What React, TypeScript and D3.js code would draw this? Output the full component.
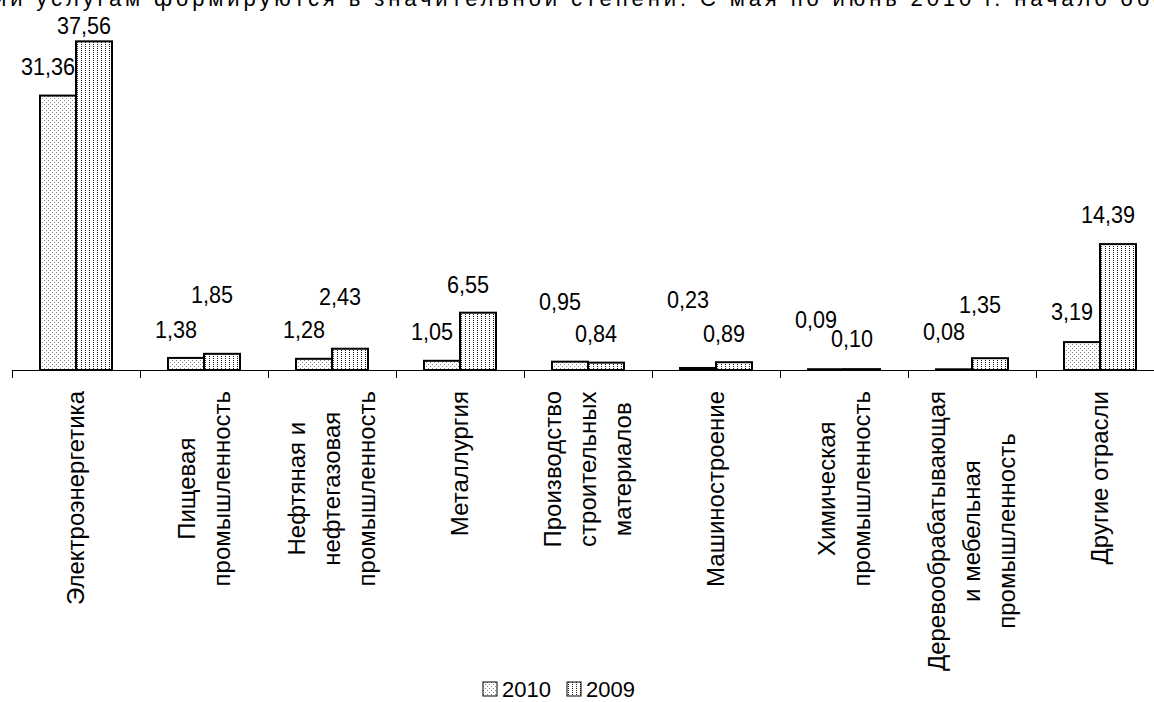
import React, { useEffect, useRef } from 'react';
import * as d3 from 'd3';

const categories = [
  'Электроэнергетика',
  'Пищевая промышленность',
  'Нефтяная и нефтегазовая промышленность',
  'Металлургия',
  'Производство строительных материалов',
  'Машиностроение',
  'Химическая промышленность',
  'Деревообрабатывающая и мебельная промышленность',
  'Другие отрасли',
];
const categoryLines = [
  ['Электроэнергетика'],
  ['Пищевая', 'промышленность'],
  ['Нефтяная и', 'нефтегазовая', 'промышленность'],
  ['Металлургия'],
  ['Производство', 'строительных', 'материалов'],
  ['Машиностроение'],
  ['Химическая', 'промышленность'],
  ['Деревообрабатывающая', 'и мебельная', 'промышленность'],
  ['Другие отрасли'],
];
const years = ['2010', '2009'];
const values2010 = [31.36, 1.38, 1.28, 1.05, 0.95, 0.23, 0.09, 0.08, 3.19];
const values2009 = [37.56, 1.85, 2.43, 6.55, 0.84, 0.89, 0.1, 1.35, 14.39];

// labels were moved by hand in the original: distance above the bar top
const lift2010 = [21, 20, 21, 21, 52, 60, 41, 29, 22];
const lift2009 = [7, 51, 44, 20, 21, 20, 22, 45, 21];

const headerText = 'ии услугам формируются в значительной степени. С мая по июнь 2010 г. начало обс';

const FONT = 'Liberation Sans, Arial, sans-serif';

const App = () => {
  const chartRef = useRef<SVGSVGElement>(null);

  useEffect(() => {
    if (!chartRef.current) return;
    const svg = d3.select(chartRef.current);
    svg.selectAll('*').remove();

    const baseY = 370;
    const left = 12;
    const step = 128;

    const defs = svg.append('defs');
    const p1 = defs.append('pattern').attr('id', 'p2010')
      .attr('width', 4).attr('height', 4).attr('patternUnits', 'userSpaceOnUse');
    p1.append('rect').attr('width', 4).attr('height', 4).attr('fill', '#fff');
    p1.append('rect').attr('x', 0).attr('y', 0).attr('width', 1).attr('height', 1).attr('fill', '#888');
    p1.append('rect').attr('x', 2).attr('y', 2).attr('width', 1).attr('height', 1).attr('fill', '#888');
    const p2 = defs.append('pattern').attr('id', 'p2009')
      .attr('width', 4).attr('height', 2).attr('patternUnits', 'userSpaceOnUse');
    p2.append('rect').attr('width', 4).attr('height', 2).attr('fill', '#fff');
    p2.append('rect').attr('x', 1).attr('y', 0).attr('width', 1).attr('height', 1).attr('fill', '#222');

    const fills: Record<string, string> = { '2010': 'url(#p2010)', '2009': 'url(#p2009)' };

    // clipped line of body text above the chart
    svg.append('text')
      .attr('x', -6).attr('y', 6)
      .attr('textLength', 1170).attr('lengthAdjust', 'spacing')
      .style('font-family', FONT).style('font-size', '22px')
      .text(headerText);

    const x = d3.scaleBand().domain(categories)
      .range([left, left + step * categories.length]).padding(0);
    const x1 = d3.scaleBand().domain(years)
      .range([0, x.bandwidth()]).paddingInner(0).paddingOuter(0.778);
    const y = d3.scaleLinear().domain([0, 40]).range([baseY, 20]);

    const idx = d3.scaleLinear().domain([0, categories.length])
      .range([left, left + step * categories.length]);
    svg.append('g')
      .attr('transform', `translate(0,${baseY})`)
      .call(d3.axisBottom(idx).tickValues(d3.range(0, categories.length + 1))
        .tickFormat(() => '').tickSizeInner(8).tickSizeOuter(0))
      .call(g => g.selectAll('line,path').attr('stroke', '#000'));

    const rows = categories.map((c, i) => ({
      c,
      i,
      bars: [
        { year: '2010', v: values2010[i], lift: lift2010[i] },
        { year: '2009', v: values2009[i], lift: lift2009[i] },
      ],
    }));

    const groups = svg.selectAll('.grp').data(rows).enter().append('g')
      .attr('class', 'grp')
      .attr('transform', d => `translate(${x(d.c)},0)`);

    groups.selectAll('rect').data(d => d.bars).enter().append('rect')
      .attr('x', d => x1(d.year)!)
      .attr('y', d => y(d.v))
      .attr('width', x1.bandwidth())
      .attr('height', d => baseY - y(d.v))
      .attr('fill', d => fills[d.year])
      .attr('stroke', '#000').attr('stroke-width', 2);

    // narrow-looking numbers: a larger size squeezed sideways
    const fmt = (v: number) => d3.format('.2f')(v).replace('.', ',');
    groups.selectAll('text.val').data(d => d.bars).enter().append('text')
      .attr('class', 'val')
      .attr('transform', d =>
        `translate(${x1(d.year)! + x1.bandwidth() / 2 - 10},${y(d.v) - d.lift}) scale(0.9,1)`)
      .attr('text-anchor', 'middle')
      .style('font-family', FONT).style('font-size', '24px')
      .text(d => fmt(d.v));

    // rotated category labels, lines centred on the longest one
    const labelTop = 391;
    const lineGap = 35;
    categoryLines.forEach((lines, i) => {
      const cx = x(categories[i])! + x.bandwidth() / 2;
      const g = svg.append('g');
      const texts = g.selectAll('text').data(lines).enter().append('text')
        .attr('text-anchor', 'middle')
        .style('font-family', FONT).style('font-size', '24px')
        .text(d => d);
      let maxLen = 0;
      texts.each(function () {
        maxLen = Math.max(maxLen, (this as SVGTextElement).getComputedTextLength());
      });
      const cy = labelTop + maxLen / 2;
      texts.attr('transform', (d, j) => {
        const lx = cx + (j - (lines.length - 1) / 2) * lineGap + 8;
        return `translate(${lx},${cy}) rotate(-90)`;
      });
    });

    // legend
    const legend = svg.append('g').attr('transform', 'translate(483,682)');
    const items = legend.selectAll('g').data(years).enter().append('g')
      .attr('transform', (d, i) => `translate(${i * 84},0)`);
    items.append('rect').attr('width', 14).attr('height', 14)
      .attr('fill', d => fills[d]).attr('stroke', '#000').attr('stroke-width', 1);
    items.append('text').attr('x', 19).attr('y', 15)
      .style('font-family', FONT).style('font-size', '22px')
      .text(d => d);
  }, []);

  return (
    <>
      <style>{'body{margin:0}'}</style>
      <svg ref={chartRef} width="1154" height="702" style={{ display: 'block', background: '#fff' }}></svg>
    </>
  );
};

export default App;
